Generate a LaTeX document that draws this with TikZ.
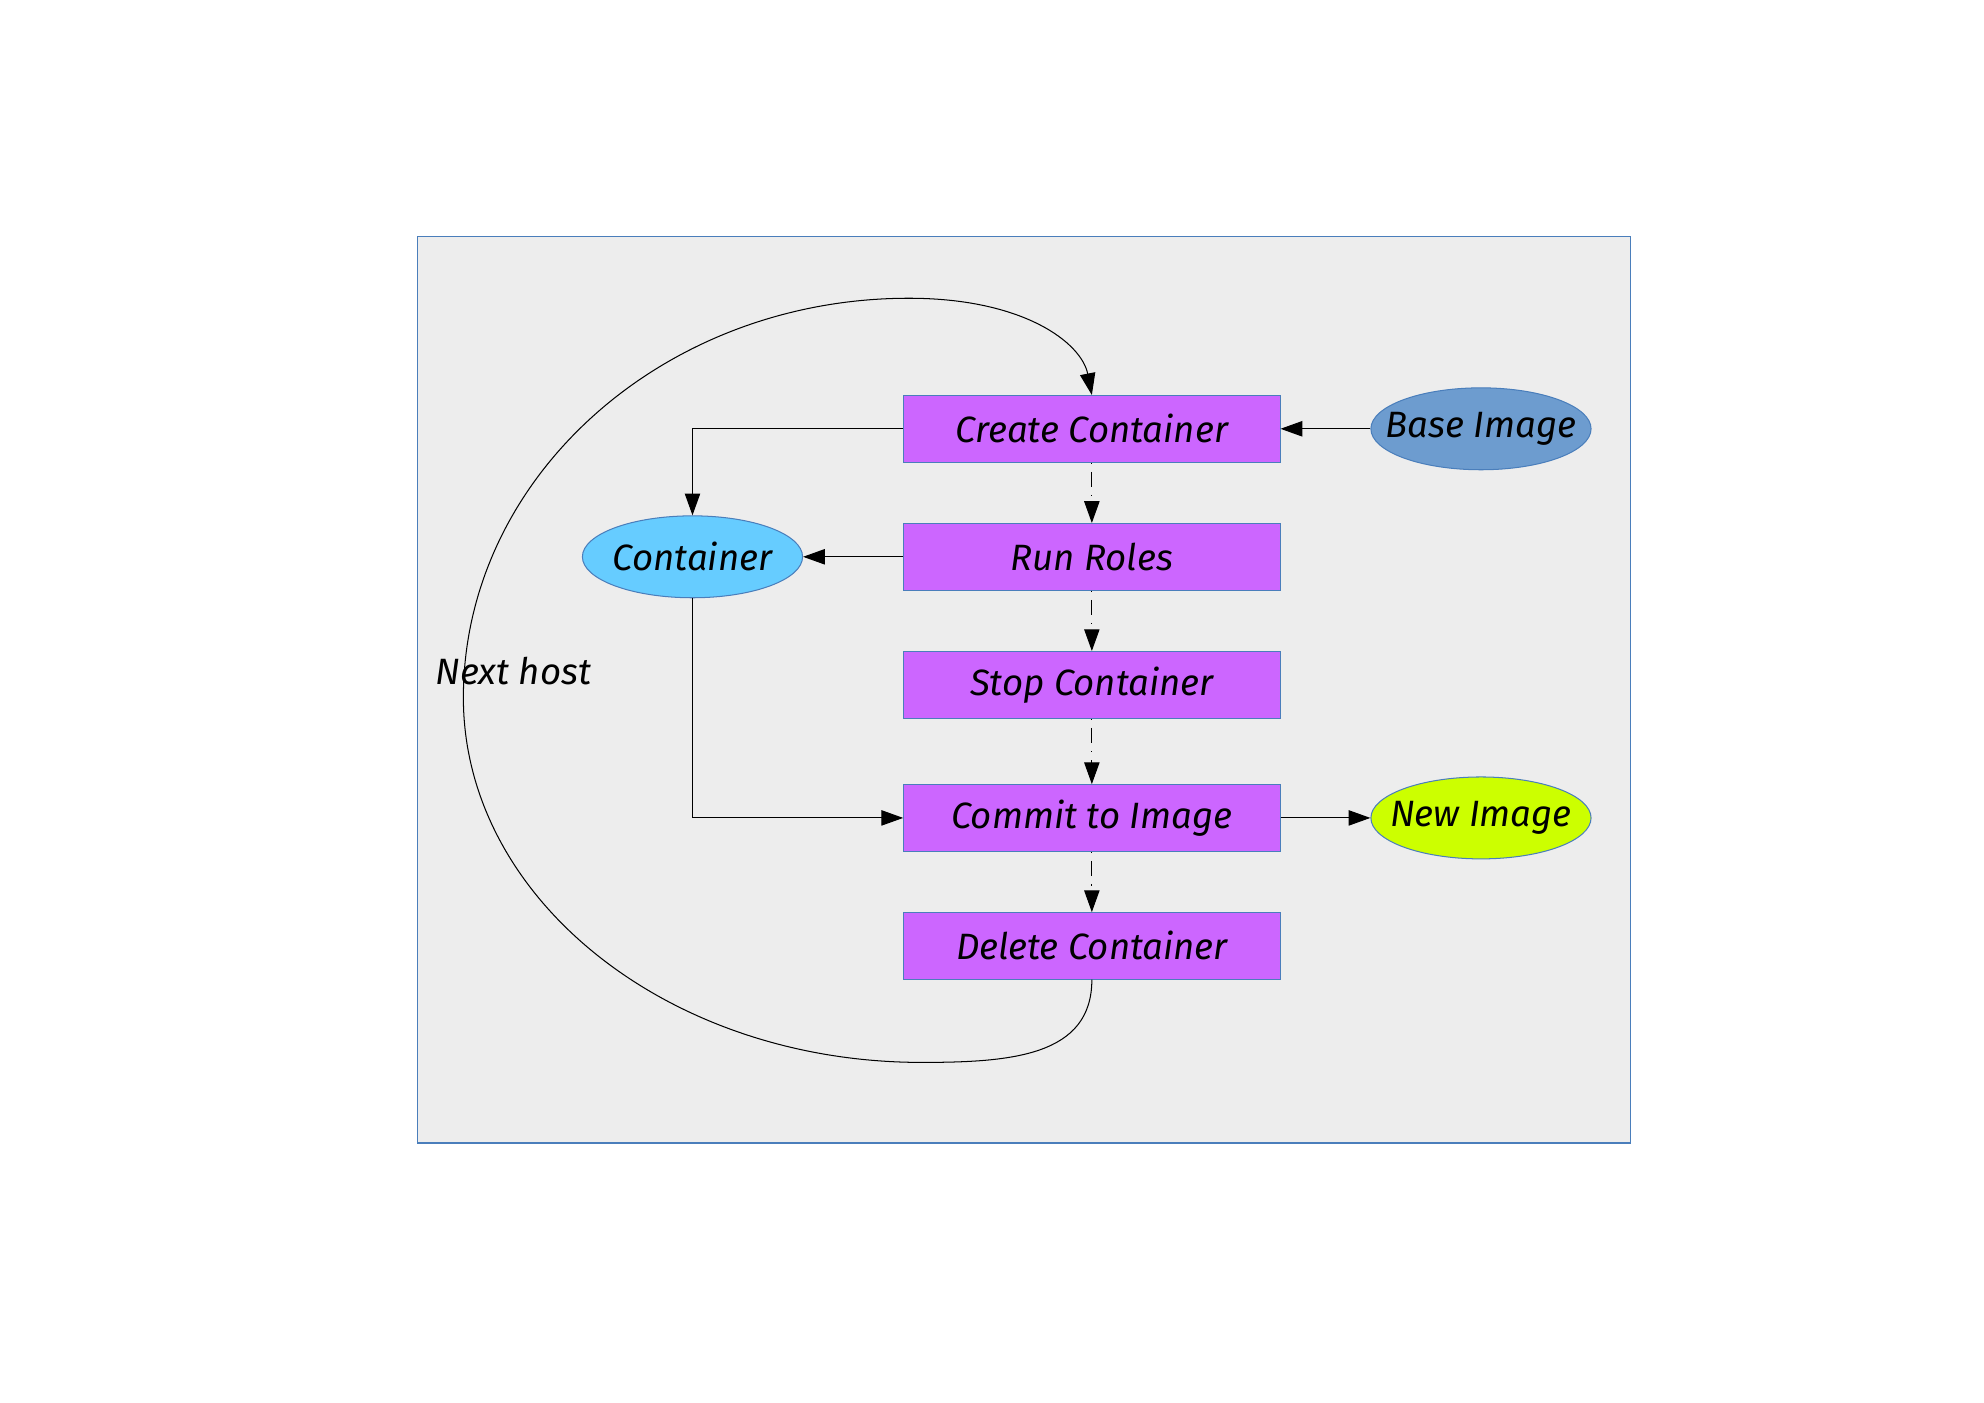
\documentclass[tikz,border=0pt]{standalone}
\usepackage{fontspec}
\setmainfont{Fira Sans}
\usetikzlibrary{arrows.meta,shapes.geometric}
\definecolor{framefill}{HTML}{EDEDED}
\definecolor{frameline}{HTML}{4A7EBB}
\definecolor{boxfill}{HTML}{CC66FF}
\definecolor{baseblue}{HTML}{6D9CCF}
\definecolor{contblue}{HTML}{66CCFF}
\definecolor{newgreen}{HTML}{CCFF00}
\tikzset{
  stepbox/.style={draw=frameline, line width=0.4pt, fill=boxfill, minimum width=147pt, minimum height=26pt, inner sep=0pt, font=\fontsize{14.3}{16}\selectfont\itshape},
  blob/.style={ellipse, draw=frameline, line width=0.4pt, minimum width=86pt, minimum height=32pt, inner xsep=-8pt, inner ysep=0pt, font=\fontsize{14.3}{16}\selectfont\itshape},
  conn/.style={draw=black, line width=0.4pt, -{Triangle[length=8.5pt,width=6pt]}},
  flow/.style={conn, dash pattern=on 0.6pt off 3pt on 6pt off 3pt}
}
\begin{document}
\begin{tikzpicture}[x=0.5pt,y=-0.5pt]
\useasboundingbox (0,0) rectangle (1550,1096);
\fill[white] (0,0) rectangle (1550,1096);
\draw[frameline, fill=framefill, line width=0.5pt] (326,185) rectangle (1274,893);

\node[stepbox] (create) at (853,335) {Create Container};
\node[stepbox] (run) at (853,435) {Run Roles};
\node[stepbox] (stop) at (853,535) {Stop Container};
\node[stepbox] (commit) at (853,639) {Commit to Image};
\node[stepbox] (delete) at (853,739) {Delete Container};

\node[blob, fill=baseblue] (base) at (1157,335) {Base Image};
\node[blob, fill=contblue] (cont) at (541,435) {Container};
\node[blob, fill=newgreen] (new) at (1157,639) {New Image};

\node[font=\fontsize{14.3}{16}\selectfont\itshape] (next) at (401,524) {Next host};

\draw[conn] (base) -- (create);
\draw[conn] (create.west) -| (cont.north);
\draw[conn] (run.west) -- (cont.east);
\draw[conn] (cont.south) |- (commit.west);
\draw[conn] (commit) -- (new);

\draw[flow] (create) -- (run);
\draw[flow] (run) -- (stop);
\draw[flow] (stop) -- (commit);
\draw[flow] (commit) -- (delete);

\coordinate (c1) at (720,830);
\coordinate (c2) at (362,545);
\coordinate (c3) at (710,233);
\draw[conn] (delete.south) .. controls (853,825) and (790,830) .. (c1)
  .. controls (522,830) and (362,702) .. (c2)
  .. controls (362,373) and (518,233) .. (c3)
  .. controls (800,233) and (845,268) .. (create.north);
\end{tikzpicture}
\end{document}
